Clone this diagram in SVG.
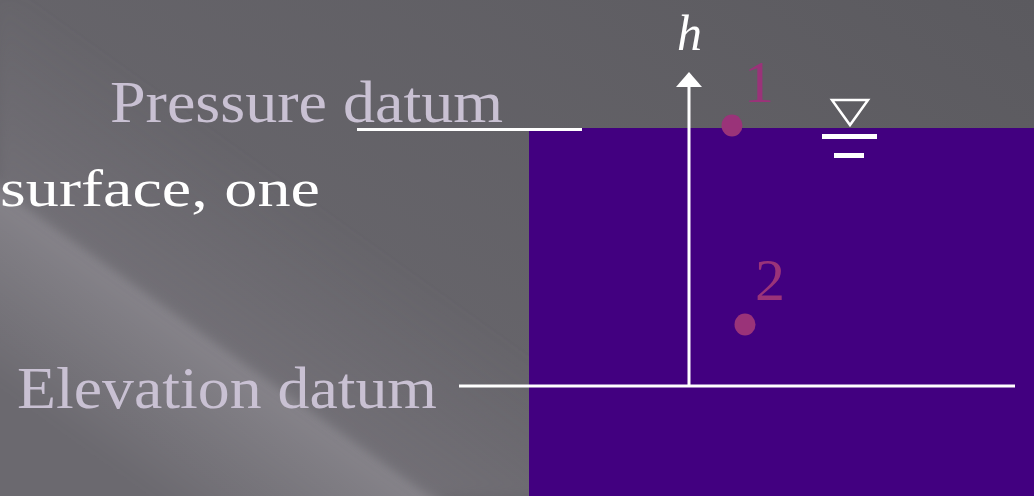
<svg xmlns="http://www.w3.org/2000/svg" width="1034" height="496" viewBox="0 0 1034 496">
<style>
.lbl{font-family:"Liberation Serif","DejaVu Serif",serif;fill:#c9c1d3;font-size:60px}
.pt{font-family:"Liberation Serif","DejaVu Serif",serif;fill:#9a3379;font-size:60px}
.ln{stroke:#ffffff;stroke-width:3;fill:none}
.dot{fill:#9a3379}
</style>
<defs>
<linearGradient id="bg" x1="0" y1="0.7" x2="1" y2="0">
<stop offset="0" stop-color="#6b696f"/>
<stop offset="1" stop-color="#5b5a5f"/>
</linearGradient>
<linearGradient id="streak" gradientUnits="userSpaceOnUse" x1="200" y1="330" x2="105" y2="462">
<stop offset="0" stop-color="#9a979e" stop-opacity="0.6"/>
<stop offset="1" stop-color="#9a979e" stop-opacity="0"/>
</linearGradient>
<linearGradient id="shade" gradientUnits="userSpaceOnUse" x1="200" y1="330" x2="300" y2="190">
<stop offset="0" stop-color="#7a777e" stop-opacity="0.5"/>
<stop offset="1" stop-color="#7a777e" stop-opacity="0"/>
</linearGradient>
<filter id="soft" x="-0.2" y="-0.2" width="1.4" height="1.4"><feGaussianBlur stdDeviation="6"/></filter>
</defs>
<rect width="1034" height="496" fill="url(#bg)"/>
<polygon points="-30,165 460,515 -30,515" fill="url(#streak)" filter="url(#soft)"/>
<polygon points="0,186 433,496 560,496 560,0 0,0" fill="url(#shade)" filter="url(#soft)"/>
<g id="water"><rect x="529" y="128" width="505" height="368" fill="#420080"/></g>
<g id="texts">
<text class="lbl" x="110" y="122" textLength="393" lengthAdjust="spacingAndGlyphs">Pressure datum</text>
<text x="0" y="206" font-family="Liberation Serif, DejaVu Serif, serif" font-size="52" fill="#ffffff" textLength="320" lengthAdjust="spacingAndGlyphs">surface, one</text>
<text class="lbl" x="17" y="408" textLength="420" lengthAdjust="spacingAndGlyphs">Elevation datum</text>
</g>
<g id="connectors">
<line class="ln" x1="357" y1="129.5" x2="582" y2="129.5"/>
<line class="ln" x1="459" y1="386" x2="1015" y2="386"/>
<line class="ln" x1="689" y1="386" x2="689" y2="84"/>
<polygon points="676,87 702,87 689,72" fill="#ffffff"/>
</g>
<g id="h-label"><text x="677" y="50" font-family="Liberation Serif, DejaVu Serif, serif" font-style="italic" font-size="50" fill="#ffffff">h</text></g>
<g id="point1">
<ellipse class="dot" cx="732" cy="125.5" rx="10.5" ry="11"/>
<text class="pt" x="744" y="102">1</text>
</g>
<g id="point2">
<ellipse class="dot" cx="745" cy="324.5" rx="10.5" ry="11"/>
<text class="pt" x="755" y="300">2</text>
</g>
<g id="surface-symbol">
<polygon points="832,100 868,100 850,125" fill="none" stroke="#ffffff" stroke-width="2.5"/>
<rect x="822" y="134" width="55" height="5" fill="#ffffff"/>
<rect x="834" y="153" width="30" height="5" fill="#ffffff"/>
</g>
</svg>
